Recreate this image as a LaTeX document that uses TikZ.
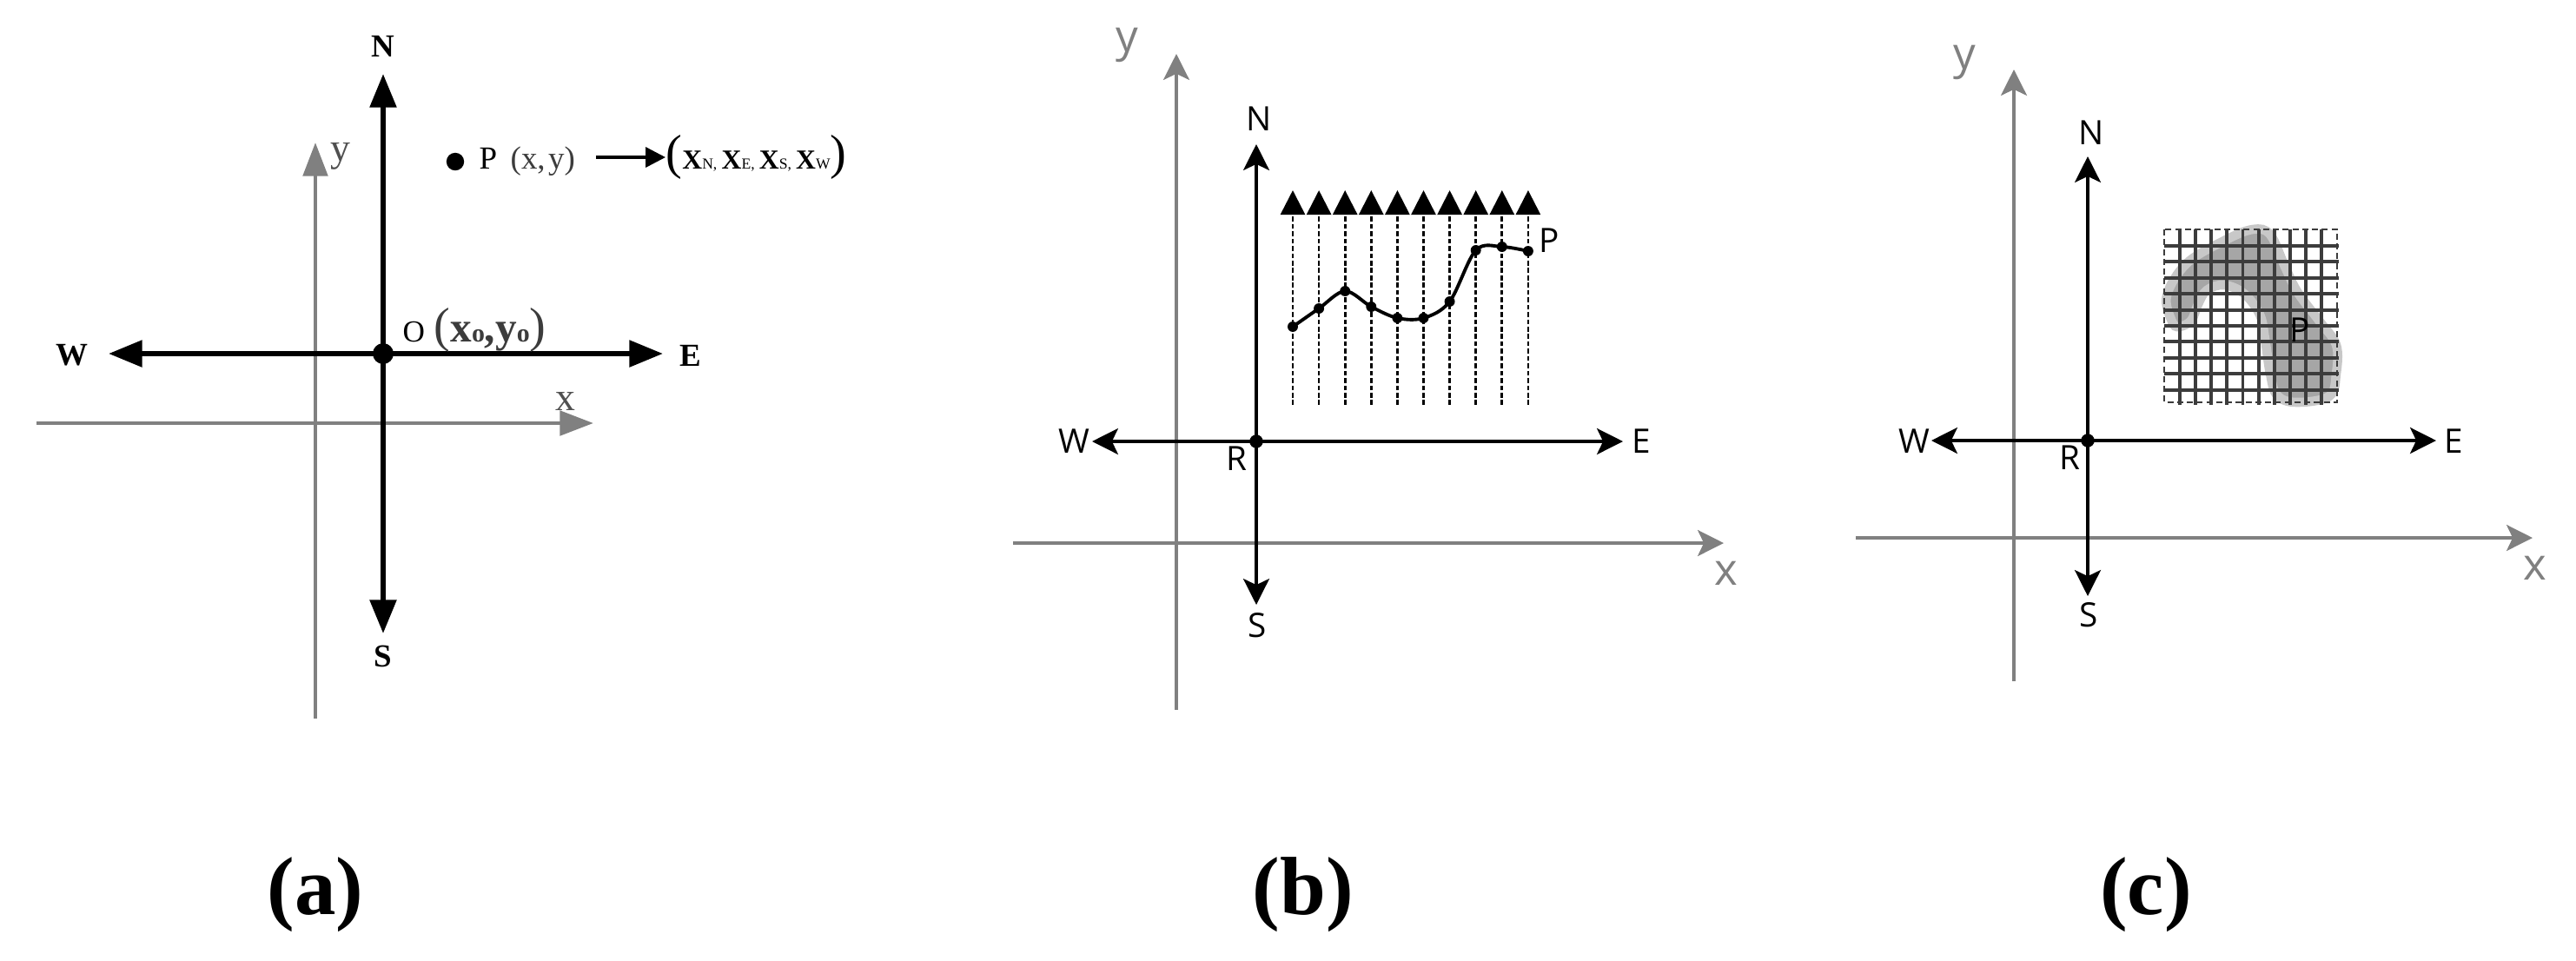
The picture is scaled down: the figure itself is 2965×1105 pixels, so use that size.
\documentclass[tikz,border=0pt]{standalone}
\usepackage{fontspec}
\setmainfont{Liberation Serif}
\newfontfamily\sansf{Open Sans}
\usetikzlibrary{arrows.meta}
\definecolor{axgray}{HTML}{808080}
\definecolor{gridgray}{HTML}{3C3C3C}
\definecolor{blobdark}{HTML}{A6A6A6}
\definecolor{bloblight}{HTML}{C8C8C8}
\definecolor{txtgray}{HTML}{3C3C3C}
\definecolor{lblgray}{HTML}{505050}
\newcommand\tupX[1]{\textbf{X}{\fontsize{5}{6}\selectfont #1}}
\newcommand\bigpar[1]{{\fontsize{16}{16}\selectfont #1}}
\newcommand\oSub{{\fontsize{8.5}{9}\selectfont\bfseries o}}
\begin{document}
\begin{tikzpicture}[x=0.01cm, y=-0.01cm,
  axA/.style={line width=1.7pt, arrows={Triangle[length=11pt,width=8.5pt]-Triangle[length=11pt,width=8.5pt]}},
  gaxA/.style={line width=1.4pt, draw=axgray, arrows={-Triangle[length=11pt,width=8pt]}},
  labA/.style={font=\fontsize{10.5}{12}\selectfont\bfseries, inner sep=0pt},
  glabA/.style={font=\fontsize{13}{14}\selectfont, text=lblgray, inner sep=0pt},
  axB/.style={line width=1.1pt, arrows={Stealth[length=8.5pt,width=8.5pt,inset=2pt]-Stealth[length=8.5pt,width=8.5pt,inset=2pt]}},
  gaxB/.style={line width=1.1pt, draw=axgray, arrows={-Stealth[length=8.5pt,width=8.5pt,inset=2pt]}},
  labB/.style={font=\sansf\fontsize{11}{13}\selectfont, inner sep=0pt},
  glabB/.style={font=\sansf\fontsize{14.5}{16}\selectfont, text=axgray, inner sep=0pt},
  dotnode/.style={circle, fill=black, inner sep=0pt, minimum size=#1},
  darrow/.style={line width=0.75pt, dash pattern=on 1.6pt off 0.8pt, arrows={-Triangle[length=8pt,width=8pt]}},
  capt/.style={font=\fontsize{27}{30}\selectfont\bfseries, inner sep=0pt},
  gridln/.style={line width=1.1pt, draw=gridgray}
]
\useasboundingbox (0,0) rectangle (2965,1105);

% ================= Panel (a) =================
\coordinate (ayb) at (363,827); \coordinate (ayt) at (363,164);
\coordinate (axl) at (42,487);  \coordinate (axr) at (683,487);
\draw[gaxA] (ayb) -- (ayt);
\draw[gaxA] (axl) -- (axr);
\node[glabA] (aylab) at (392,180) {y};
\node[glabA] (axlab) at (651,462) {x};

\coordinate (aNt) at (441,85);  \coordinate (aSt) at (441,729);
\coordinate (aWt) at (125,407); \coordinate (aEt) at (763,407);
\draw[axA] (aSt) -- (aNt);
\draw[axA] (aWt) -- (aEt);
\node[dotnode=6.8pt] (aO) at (441,407) {};
\node[labA] (aN) at (441,53) {N};
\node[labA] (aS) at (441,755) {S};
\node[labA] (aW) at (83,409) {W};
\node[labA] (aE) at (795,409) {E};
\node[anchor=base west, inner sep=0pt, font=\fontsize{10}{12}\selectfont] (aOlab) at (463,393)
  {O\kern3pt\textcolor{txtgray}{\bigpar{(}{\fontsize{14}{14}\selectfont\bfseries x}\oSub{\fontsize{14}{14}\selectfont\bfseries ,y}\oSub\bigpar{)}}};

\node[dotnode=5.8pt] (aP) at (524,186) {};
\node[anchor=base west, inner sep=0pt, font=\fontsize{10.5}{12}\selectfont] (aPl) at (551,194) {P};
\node[anchor=base west, inner sep=0pt, font=\fontsize{10.5}{12}\selectfont, text=txtgray] (aPxy) at (587,194) {(x,\kern1pt y)};
\node[anchor=base west, inner sep=0pt, font=\fontsize{9}{12}\selectfont] (aPX) at (766,194)
  {\bigpar{(}\tupX{N,}\kern1.5pt\tupX{E,}\kern1.5pt\tupX{S,}\kern1.5pt\tupX{W}\bigpar{)}};
\coordinate (aPa) at (686,181); \coordinate (aPb) at (766,181);
\draw[line width=1pt, -{Triangle[length=6.5pt,width=6.5pt]}] (aPa) -- (aPb);

% ================= Panel (b) =================
\coordinate (byb) at (1354,817); \coordinate (byt) at (1354,62);
\coordinate (bxl) at (1166,625); \coordinate (bxr) at (1984,625);
\draw[gaxB] (byb) -- (byt);
\draw[gaxB] (bxl) -- (bxr);
\node[glabB] (bylab) at (1297,52) {y};
\node[glabB] (bxlab) at (1987,660) {x};

\coordinate (bNt) at (1446,166); \coordinate (bSt) at (1446,696);
\coordinate (bWt) at (1257,508); \coordinate (bEt) at (1868,508);
\draw[axB] (bSt) -- (bNt);
\draw[axB] (bWt) -- (bEt);
\node[dotnode=4.4pt] (bR) at (1446,508) {};
\node[labB] (bN) at (1449,137) {N};
\node[labB] (bS) at (1447,720) {S};
\node[labB] (bW) at (1236,508) {W};
\node[labB] (bE) at (1889,508) {E};
\node[labB] (bRl) at (1423,528) {R};

\foreach \i in {0,...,9} {
  \pgfmathsetmacro\xx{1488+30.1*\i}
  \coordinate (bd\i) at (\xx,466);
  \coordinate (bt\i) at (\xx,219);
  \draw[darrow] (bd\i) -- (bt\i);
}
\foreach \i/\yy in {0/376,1/355,2/335,3/353,4/366,5/366,6/347,7/288,8/284,9/289} {
  \node[dotnode=3.4pt] (bc\i) at ({1488+30.1*\i},\yy) {};
}
\draw[line width=1.1pt] plot[smooth, tension=0.55] coordinates {(bc0) (bc1) (bc2) (bc3) (bc4) (bc5) (bc6) (bc7) (bc8) (bc9)};
\node[labB] (bP) at (1783,277) {P};

% ================= Panel (c) =================
\coordinate (cyb) at (2318,784); \coordinate (cyt) at (2318,80);
\coordinate (cxl) at (2136,619); \coordinate (cxr) at (2915,619);
\draw[gaxB] (cyb) -- (cyt);
\draw[gaxB] (cxl) -- (cxr);
\node[glabB] (cylab) at (2261,72) {y};
\node[glabB] (cxlab) at (2918,654) {x};

% blob
\draw[draw=bloblight, line width=3pt, fill=blobdark] plot[smooth cycle, tension=0.6] coordinates {
 (2500,370) (2494,340) (2517,303) (2560,277) (2593,264) (2613,270) (2630,307) (2645,337)
 (2670,370) (2689,397) (2689,430) (2681,456) (2643,463) (2621,455) (2613,430) (2607,390)
 (2601,362) (2583,338) (2560,328) (2540,334) (2530,350) (2522,369) (2508,376)};

% grid
\foreach \k in {1,...,10} {
  \pgfmathsetmacro\gx{2491+18.1*\k}
  \draw[gridln] (\gx,264) -- (\gx,466);
  \pgfmathsetmacro\gy{283+18.4*(\k-1)}
  \draw[gridln] (2491,\gy) -- (2692,\gy);
}
\draw[draw=gridgray, line width=0.6pt, dash pattern=on 2pt off 1.2pt] (2491,264) rectangle (2690,463);
\node[labB] (cP) at (2647,380) {P};

\coordinate (cNt) at (2403,180); \coordinate (cSt) at (2403,686);
\coordinate (cWt) at (2223,507); \coordinate (cEt) at (2804,507);
\draw[axB] (cSt) -- (cNt);
\draw[axB] (cWt) -- (cEt);
\node[dotnode=4.4pt] (cR) at (2403,507) {};
\node[labB] (cN) at (2407,153) {N};
\node[labB] (cS) at (2404,708) {S};
\node[labB] (cW) at (2203,508) {W};
\node[labB] (cE) at (2824,508) {E};
\node[labB] (cRl) at (2382,527) {R};

% ================= Captions =================
\node[capt] (capa) at (363,1030) {(a)};
\node[capt] (capb) at (1500,1030) {(b)};
\node[capt] (capc) at (2470,1030) {(c)};
\end{tikzpicture}
\end{document}
